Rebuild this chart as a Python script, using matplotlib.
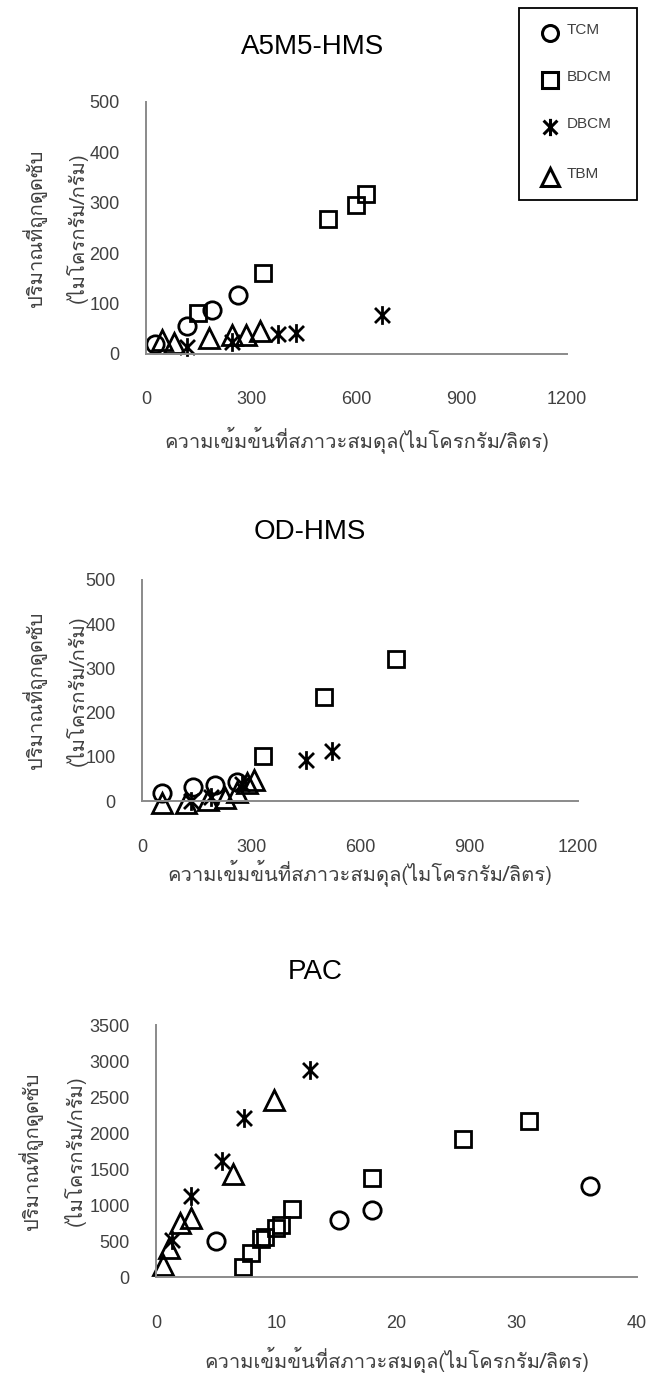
import matplotlib
matplotlib.use("Agg")
import matplotlib.pyplot as plt
import matplotlib.font_manager as fm
from matplotlib import ft2font
from matplotlib.path import Path
from matplotlib.lines import Line2D
from matplotlib.patches import Rectangle

# ---------------- data ----------------
series_names = ["TCM", "BDCM", "DBCM", "TBM"]

# A5M5-HMS
a5_tcm_x = [26, 118, 188, 262]
a5_tcm_y = [20, 55, 87, 118]
a5_bdcm_x = [147, 333, 520, 598, 626]
a5_bdcm_y = [81, 160, 268, 296, 318]
a5_dbcm_x = [118, 246, 375, 428, 673]
a5_dbcm_y = [14, 24, 39, 42, 78]
a5_tbm_x = [47, 79, 180, 246, 286, 326]
a5_tbm_y = [27, 22, 32, 37, 38, 45]

# OD-HMS
od_tcm_x = [55, 139, 200, 262]
od_tcm_y = [19, 32, 36, 44]
od_bdcm_x = [334, 500, 700]
od_bdcm_y = [102, 236, 322]
od_dbcm_x = [135, 190, 275, 451, 523]
od_dbcm_y = [0, 8, 38, 92, 112]
od_tbm_x = [55, 120, 183, 229, 262, 288, 309]
od_tbm_y = [-5, -5, 2, 6, 21, 40, 48]

# PAC
pac_tcm_x = [4.95, 15.2, 18.0, 36.1]
pac_tcm_y = [498, 791, 930, 1270]
pac_bdcm_x = [7.2, 7.9, 8.7, 9.1, 10.0, 10.4, 11.3, 18.0, 25.5, 31.0]
pac_bdcm_y = [140, 330, 530, 560, 680, 720, 940, 1380, 1920, 2160]
pac_dbcm_x = [1.3, 2.9, 5.5, 7.3, 12.8]
pac_dbcm_y = [512, 1131, 1615, 2210, 2880]
pac_tbm_x = [0.6, 1.1, 2.0, 2.9, 6.4, 9.8]
pac_tbm_y = [163, 396, 745, 815, 1433, 2452]

panel_titles = ["A5M5-HMS", "OD-HMS", "PAC"]
a5_xticks = [0, 300, 600, 900, 1200]
a5_yticks = [0, 100, 200, 300, 400, 500]
od_xticks = [0, 300, 600, 900, 1200]
od_yticks = [0, 100, 200, 300, 400, 500]
pac_xticks = [0, 10, 20, 30, 40]
pac_yticks = [0, 500, 1000, 1500, 2000, 2500, 3000, 3500]

xlabel_text = "ความเข้มข้นที่สภาวะสมดุล(ไมโครกรัม/ลิตร)"
ylabel_line1 = "ปริมาณที่ถูกดูดซับ"
ylabel_line2 = "(ไมโครกรัม/กรัม)"

# ---------------- fonts ----------------
def thai_family():
    preferred = ["Loma", "Garuda", "Norasi", "Kinnari", "Tlwg Typist",
                 "Noto Sans Thai", "Noto Sans Thai Looped", "Noto Serif Thai",
                 "Sawasdee", "Umpush", "Waree", "Purisa"]
    found = []
    for fe in fm.fontManager.ttflist:
        try:
            f = ft2font.FT2Font(fe.fname)
            if f.get_char_index(0x0E01) and f.get_char_index(0x0E21):
                found.append(fe.name)
        except Exception:
            pass
    for p in preferred:
        if p in found:
            return p
    return found[0] if found else "DejaVu Sans"

THAI = thai_family()
LATIN = "Liberation Sans"
plt.rcParams["font.family"] = [LATIN, "DejaVu Sans"]

W, H = 651, 1373
fig = plt.figure(figsize=(W / 100, H / 100), dpi=100)


def fx(px):
    return px / W


def fy(py):
    return 1 - py / H


# asterisk marker: vertical stroke plus an X
star_path = Path(
    [(0, -1), (0, 1), (-0.8, -0.8), (0.8, 0.8), (-0.8, 0.8), (0.8, -0.8)],
    [Path.MOVETO, Path.LINETO, Path.MOVETO, Path.LINETO, Path.MOVETO, Path.LINETO],
)

styles = {
    "TCM": dict(marker="o", ms=12.5),
    "BDCM": dict(marker="s", ms=12),
    "DBCM": dict(marker=star_path, ms=13.5),
    "TBM": dict(marker="^", ms=14),
}

AXIS_GRAY = "#8a8a8a"
TICK_COLOR = "#404040"
THAI_SIZE = 14.5


def make_panel(rect_px, xlim, ylim, xticks, yticks, data, title, title_xy,
               xlabel_y, ylabel_x):
    left, top, right, bottom = rect_px
    ax = fig.add_axes([fx(left), fy(bottom), fx(right) - fx(left), fy(top) - fy(bottom)])
    ax.set_xlim(*xlim)
    ax.set_ylim(*ylim)
    ax.set_facecolor("none")
    for s in ("top", "right"):
        ax.spines[s].set_visible(False)
    for s in ("left", "bottom"):
        ax.spines[s].set_color(AXIS_GRAY)
        ax.spines[s].set_linewidth(1.4)
    ax.set_xticks(xticks)
    ax.set_yticks(yticks)
    ax.tick_params(axis="x", length=0, pad=27, labelsize=13, colors=TICK_COLOR)
    ax.tick_params(axis="y", length=0, pad=19, labelsize=13, colors=TICK_COLOR)
    for name, (xs, ys) in zip(series_names, data):
        st = styles[name]
        ax.plot(xs, ys, linestyle="none", marker=st["marker"], markersize=st["ms"],
                markerfacecolor="none", markeredgecolor="black",
                markeredgewidth=2.0, clip_on=False)
    fig.text(fx(title_xy[0]), fy(title_xy[1]), title, ha="center", va="center",
             fontsize=20, color="black")
    cx = (left + right) / 2
    fig.text(fx(cx), fy(xlabel_y), xlabel_text, ha="center", va="center",
             fontsize=THAI_SIZE, color=TICK_COLOR, family=[THAI, LATIN])
    cy = (top + bottom) / 2
    fig.text(fx(ylabel_x[0]), fy(cy), ylabel_line1, rotation=90, ha="center",
             va="center", fontsize=THAI_SIZE, color=TICK_COLOR, family=[THAI, LATIN])
    fig.text(fx(ylabel_x[1]), fy(cy), ylabel_line2, rotation=90, ha="center",
             va="center", fontsize=THAI_SIZE, color=TICK_COLOR, family=[THAI, LATIN])
    return ax


make_panel((146, 102, 567, 354), (0, 1200), (0, 500), a5_xticks, a5_yticks,
           [(a5_tcm_x, a5_tcm_y), (a5_bdcm_x, a5_bdcm_y),
            (a5_dbcm_x, a5_dbcm_y), (a5_tbm_x, a5_tbm_y)],
           panel_titles[0], (313, 47), 440, (35, 77))

make_panel((142, 580, 578, 801), (0, 1200), (0, 500), od_xticks, od_yticks,
           [(od_tcm_x, od_tcm_y), (od_bdcm_x, od_bdcm_y),
            (od_dbcm_x, od_dbcm_y), (od_tbm_x, od_tbm_y)],
           panel_titles[1], (310, 532), 873, (35, 77))

make_panel((156, 1025, 637, 1277), (0, 40), (0, 3500), pac_xticks, pac_yticks,
           [(pac_tcm_x, pac_tcm_y), (pac_bdcm_x, pac_bdcm_y),
            (pac_dbcm_x, pac_dbcm_y), (pac_tbm_x, pac_tbm_y)],
           panel_titles[2], (315, 972), 1360, (31, 75))

# legend box in the top-right corner
fig.patches.append(Rectangle((fx(519), fy(200)), fx(637) - fx(519), fy(8) - fy(200),
                             transform=fig.transFigure, fill=False,
                             edgecolor="black", linewidth=1.3))
legend_rows = [33, 80, 127, 177]
for name, ry in zip(series_names, legend_rows):
    st = styles[name]
    fig.add_artist(Line2D([fx(550)], [fy(ry)], transform=fig.transFigure,
                          linestyle="none", marker=st["marker"],
                          markersize=st["ms"] * 0.92, markerfacecolor="none",
                          markeredgecolor="black", markeredgewidth=2.2))
    fig.text(fx(567), fy(ry - 3), name, ha="left", va="center", fontsize=11,
             color=TICK_COLOR)

fig.savefig("out.png", dpi=100)
